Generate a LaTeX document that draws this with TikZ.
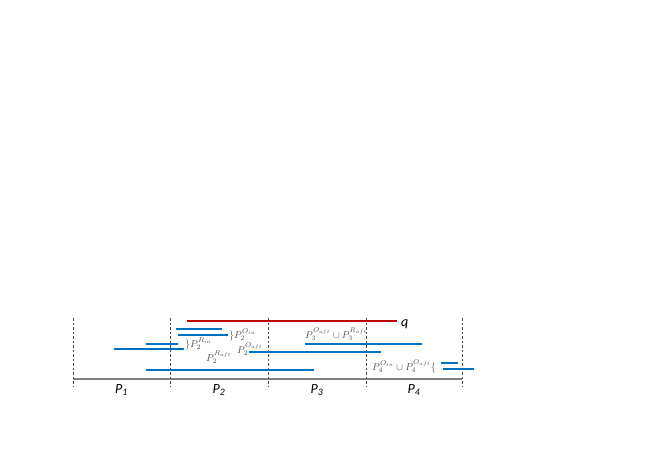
\documentclass[tikz,border=0pt]{standalone}
\usepackage{amsmath}
\usepackage{xcolor}
\usepackage{fontspec}
\newfontfamily\partfont{Carlito}
\definecolor{segblue}{HTML}{0070C0}
\definecolor{qred}{HTML}{C00000}
\usetikzlibrary{positioning,calc}

\begin{document}
\begin{tikzpicture}[x=1pt, y=-1pt,
seg/.style={line width=2.8pt, segblue},
query/.style={line width=2.8pt, qred},
bound/.style={dash pattern=on 2.5pt off 2pt, line width=0.7pt, black!70},
axisline/.style={line width=1.1pt, black!50},
setlabel/.style={text=black!70, inner sep=0pt, anchor=base west},
partlabel/.style={font=\partfont\fontsize{14}{16}\selectfont\itshape, inner sep=0pt, anchor=base}
]
\useasboundingbox (0,0) rectangle (667,471);
\draw[axisline] (73,379) -- (462,379);
\foreach \bx/\bn in {73/0,170/1,268/2,366/3,462/4}
  \draw[bound] (\bx,318) coordinate (b\bn) -- (\bx,387);
\foreach \pa/\pb/\pn in {0/1/1,1/2/2,2/3/3,3/4/4}
  \node[partlabel] (part\pn) at ($(b\pa)!0.5!(b\pb)+(0,75)$) {P\textsubscript{\pn}};
\draw[query] (187,321) coordinate (qs) -- (397,321) coordinate (qe);
\node[partlabel, anchor=west, right=4pt of qe, yshift=-3pt] (qlabel) {q};
\draw[seg] (176,329) -- (222,329);
\draw[seg] (178,335) -- (228,335);
\draw[seg] (146,344) -- (178,344);
\draw[seg] (114,349) -- (184,349);
\draw[seg] (249,352) -- (381,352);
\draw[seg] (146,370) -- (314,370);
\draw[seg] (305,344) -- (422,344);
\draw[seg] (441,363) -- (458,363);
\draw[seg] (443,369) -- (474,369);
\node[setlabel] (oin2) at (229,338) {$\}P_2^{O_{in}}$};
\node[setlabel] (rin2) at (185,347) {$\}P_2^{R_{in}}$};
\node[setlabel] (oaft2) at (237,353) {$P_2^{O_{aft}}$};
\node[setlabel] (raft2) at (206,361) {$P_2^{R_{aft}}$};
\node[setlabel] (aft3) at (305,338) {$P_3^{O_{aft}}\cup P_3^{R_{aft}}$};
\node[setlabel] (set4) at (372,370) {$P_4^{O_{in}}\cup P_4^{O_{aft}}\{$};
\end{tikzpicture}
\end{document}
